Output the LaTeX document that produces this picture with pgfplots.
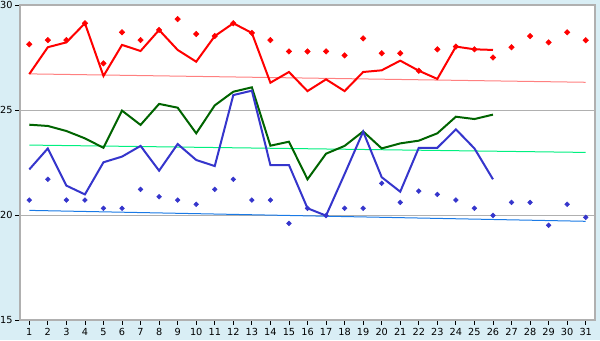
\documentclass[border=0pt]{standalone}
\usepackage{pgfplots}
\pgfplotsset{compat=1.18}
\usepackage{fontspec}
\setmainfont{DejaVu Sans}
\definecolor{bgblue}{HTML}{D9EEF5}
\definecolor{gridgray}{HTML}{B0B0B0}
\definecolor{lred}{HTML}{FF0000}
\definecolor{tred}{HTML}{FF8080}
\definecolor{dgreen}{HTML}{006400}
\definecolor{tgreen}{HTML}{00F080}
\definecolor{lblue}{HTML}{3535CC}
\definecolor{tblue}{HTML}{1A7AE6}
\begin{document}
\begin{tikzpicture}
\fill[bgblue] (-15pt,-15pt) rectangle (435pt,240pt);
\begin{axis}[
  at={(0pt,0pt)}, anchor=south west,
  scale only axis, width=431.25pt, height=236.25pt,
  xmin=0.5, xmax=31.5, ymin=15, ymax=30,
  xtick={1,...,31}, ytick={15,20,25,30},
  axis background/.style={fill=white},
  axis line style={gridgray, line width=0.9pt},
  ymajorgrids, grid style={gridgray, line width=0.75pt},
  tick align=outside, major tick length=3.5pt,
  tick style={black, line width=0.6pt},
  xtick pos=bottom, ytick pos=left,
  ticklabel style={font=\fontsize{7.3}{8}\selectfont},
  /pgf/number format/assume math mode=true,
  xticklabel style={yshift=1pt},
  yticklabel style={xshift=1.5pt},
]
% trend lines
\addplot[tred, line width=0.75pt] coordinates {(1,26.72) (31,26.32)};
\addplot[tgreen, line width=0.75pt] coordinates {(1,23.33) (31,22.98)};
\addplot[tblue, line width=0.75pt] coordinates {(1,20.22) (31,19.70)};
% red
\addplot[lred, line width=1.5pt] coordinates {
(1,26.71)(2,27.99)(3,28.22)(4,29.13)(5,26.62)(6,28.10)(7,27.81)(8,28.81)(9,27.86)(10,27.30)
(11,28.52)(12,29.13)(13,28.67)(14,26.30)(15,26.81)(16,25.90)(17,26.46)(18,25.90)(19,26.81)(20,26.89)
(21,27.35)(22,26.87)(23,26.48)(24,28.02)(25,27.89)(26,27.86)};
\addplot[only marks, mark=square*, mark size=1.45pt, mark options={lred, fill=lred, rotate=45}] coordinates {
(1,28.13)(2,28.33)(3,28.33)(4,29.13)(5,27.22)(6,28.70)(7,28.33)(8,28.81)(9,29.33)(10,28.62)
(11,28.52)(12,29.13)(13,28.67)(14,28.33)(15,27.79)(16,27.79)(17,27.79)(18,27.60)(19,28.41)(20,27.70)
(21,27.70)(22,26.87)(23,27.89)(24,28.02)(25,27.89)(26,27.50)(27,27.99)(28,28.52)(29,28.22)(30,28.70)(31,28.32)};
% green
\addplot[dgreen, line width=1.5pt] coordinates {
(1,24.30)(2,24.24)(3,24.00)(4,23.65)(5,23.20)(6,24.97)(7,24.29)(8,25.29)(9,25.11)(10,23.89)
(11,25.22)(12,25.87)(13,26.08)(14,23.30)(15,23.49)(16,21.70)(17,22.92)(18,23.29)(19,23.98)(20,23.17)
(21,23.41)(22,23.54)(23,23.89)(24,24.68)(25,24.57)(26,24.78)};
% blue
\addplot[lblue, line width=1.5pt] coordinates {
(1,22.17)(2,23.17)(3,21.40)(4,20.98)(5,22.51)(6,22.78)(7,23.29)(8,22.11)(9,23.38)(10,22.62)
(11,22.33)(12,25.71)(13,25.92)(14,22.38)(15,22.38)(16,20.32)(17,19.97)(18,21.95)(19,23.97)(20,21.80)
(21,21.11)(22,23.20)(23,23.20)(24,24.08)(25,23.17)(26,21.70)};
\addplot[only marks, mark=square*, mark size=1.25pt, mark options={lblue, fill=lblue, rotate=45}] coordinates {
(1,20.71)(2,21.70)(3,20.71)(4,20.71)(5,20.32)(6,20.32)(7,21.22)(8,20.87)(9,20.71)(10,20.51)
(11,21.22)(12,21.70)(13,20.71)(14,20.71)(15,19.60)(16,20.32)(17,19.97)(18,20.32)(19,20.32)(20,21.51)
(21,20.60)(22,21.14)(23,20.98)(24,20.71)(25,20.32)(26,19.98)(27,20.60)(28,20.60)(29,19.51)(30,20.51)(31,19.89)};
\end{axis}
\pgfresetboundingbox
\useasboundingbox (-15pt,-15pt) rectangle (435pt,240pt);
\end{tikzpicture}
\end{document}
